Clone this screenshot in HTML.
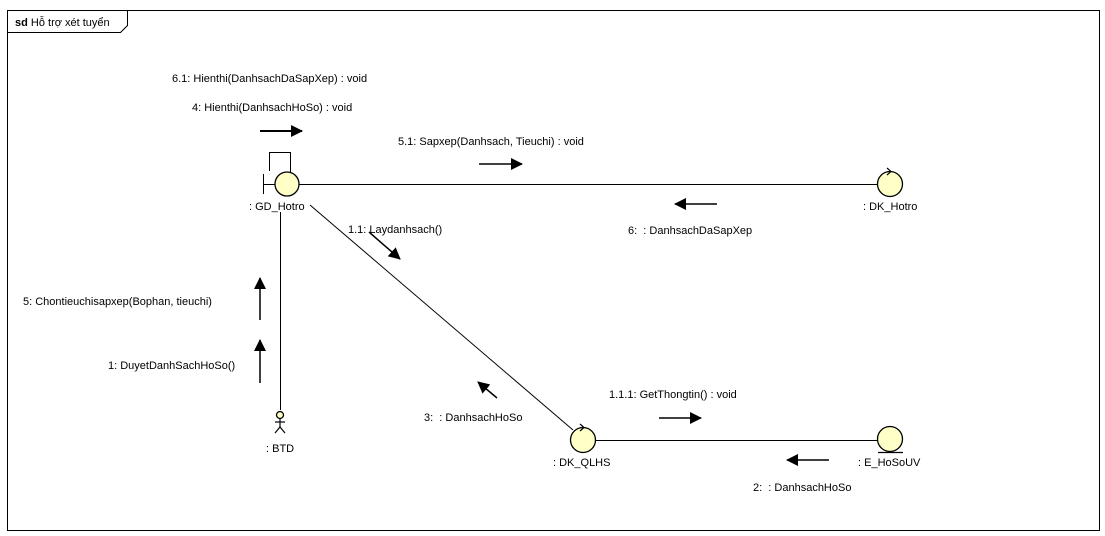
<!DOCTYPE html>
<html><head><meta charset="utf-8"><style>
html,body{margin:0;padding:0;background:#fff;width:1105px;height:536px;overflow:hidden}
text{font-family:"Liberation Sans",Arial,sans-serif;font-size:11px;fill:#000}
</style></head><body>
<svg width="1105" height="536" viewBox="0 0 1105 536" xmlns="http://www.w3.org/2000/svg">
<defs>
<marker id="ah" markerWidth="12" markerHeight="12" refX="11" refY="6" orient="auto" markerUnits="userSpaceOnUse">
<path d="M0,0 L12,6 L0,12 Z" fill="#000"/></marker>
</defs>
<rect x="7.5" y="10.5" width="1092" height="520" fill="#fff" stroke="#000"/>
<path d="M7.5,32.5 H120.5 L127.5,25.5 V10.5" fill="none" stroke="#000"/>
<text x="15" y="26"><tspan font-weight="bold">sd</tspan> Hỗ trợ xét tuyển</text>

<g stroke="#000" fill="none">
<line x1="299" y1="184.5" x2="877" y2="184.5"/>
<line x1="596" y1="440.5" x2="877" y2="440.5"/>
<line x1="280.5" y1="212" x2="280.5" y2="410"/>
<line x1="310" y1="205" x2="573" y2="430"/>
<path d="M269.5,171 V152.5 H290.5 V172"/>
<line x1="263.5" y1="174" x2="263.5" y2="194"/>
<line x1="263" y1="184.5" x2="275" y2="184.5"/>
</g>
<g stroke="#000" stroke-width="1.3" fill="#ffffc8">
<circle cx="287" cy="184" r="12"/>
<circle cx="890" cy="184" r="12.5"/>
<circle cx="583" cy="440" r="12.5"/>
<circle cx="890" cy="439" r="12.5"/>
<circle cx="280" cy="415" r="3.5"/>
</g>
<g stroke="#000" fill="none" stroke-width="1.2">
<path d="M887,168 L891,171.5 L887,175"/>
<path d="M580,424 L584,427.5 L580,431"/>
<line x1="878" y1="452.5" x2="903" y2="452.5"/>
<line x1="280" y1="419" x2="280" y2="427"/>
<line x1="275" y1="422" x2="285" y2="422"/>
<line x1="280" y1="427" x2="275" y2="433"/>
<line x1="280" y1="427" x2="285" y2="433"/>
</g>

<g stroke="#000" stroke-width="1.5" marker-end="url(#ah)">
<line x1="260" y1="131" x2="302" y2="131" stroke-width="2"/>
<line x1="479" y1="164" x2="522" y2="164"/>
<line x1="717" y1="204" x2="675" y2="204"/>
<line x1="260" y1="320" x2="260" y2="278"/>
<line x1="260" y1="383" x2="260" y2="340"/>
<line x1="369" y1="232" x2="400" y2="259"/>
<line x1="497" y1="398" x2="478" y2="382"/>
<line x1="659" y1="418" x2="701" y2="418"/>
<line x1="829" y1="460" x2="787" y2="460"/>
</g>

<text x="172" y="82">6.1: Hienthi(DanhsachDaSapXep) : void</text>
<text x="192" y="111">4: Hienthi(DanhsachHoSo) : void</text>
<text x="398" y="145">5.1: Sapxep(Danhsach, Tieuchi) : void</text>
<text x="628" y="234" xml:space="preserve">6:  : DanhsachDaSapXep</text>
<text x="348" y="233">1.1: Laydanhsach()</text>
<text x="23" y="305">5: Chontieuchisapxep(Bophan, tieuchi)</text>
<text x="108" y="369">1: DuyetDanhSachHoSo()</text>
<text x="424" y="421" xml:space="preserve">3:  : DanhsachHoSo</text>
<text x="609" y="398">1.1.1: GetThongtin() : void</text>
<text x="753" y="491" xml:space="preserve">2:  : DanhsachHoSo</text>
<text x="249" y="210">: GD_Hotro</text>
<text x="863" y="210">: DK_Hotro</text>
<text x="553" y="466">: DK_QLHS</text>
<text x="858" y="466">: E_HoSoUV</text>
<text x="266" y="452">: BTD</text>
</svg>
</body></html>
